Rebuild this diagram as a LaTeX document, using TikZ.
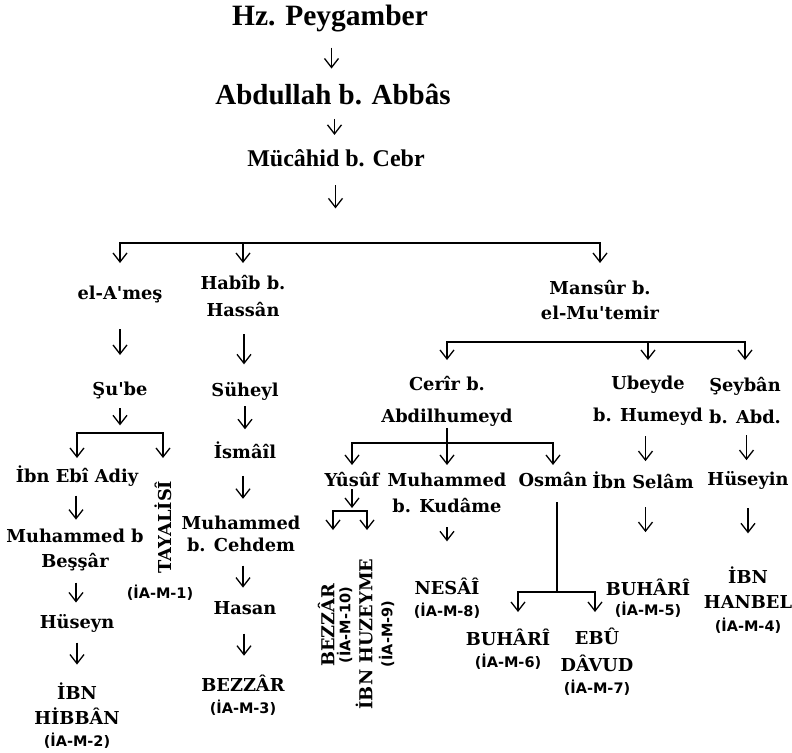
\documentclass[tikz,border=0pt]{standalone}
\usepackage{fontspec}
\setmainfont{DejaVu Serif}
\newfontfamily\tnrfont{Liberation Serif}
\newfontfamily\labfont{DejaVu Sans}
\usetikzlibrary{arrows.meta,calc}

\newcommand\ap{\XeTeXglyph\XeTeXcharglyph"0027\relax}
\newcommand\ia[1]{{\labfont\bfseries\fontsize{14.5}{16}\selectfont(İA-M-#1)}}

\tikzset{
  nm/.style={font=\bfseries\fontsize{17.8}{25}\selectfont, align=center, inner sep=2pt},
  tp/.style={font=\tnrfont\bfseries\fontsize{#1}{#1}\selectfont, inner sep=2pt},
  rot/.style={nm, rotate=90},
  arrlift/.store in=\arrlift, arrlift=0,
  arr/.style={line width=1.3pt, -{Straight Barb[length=9pt,width=14pt]}},
  dn/.style={arr, to path={($(\tikztostart)!.5!(\tikztotarget)+(0,\arrlift-#1/2)$)
      -- ($(\tikztostart)!.5!(\tikztotarget)+(0,\arrlift+#1/2)$)}},
  dn/.default=24,
  fork/.style={line width=1.6pt, line cap=rect},
  drop/.style={line width=1.3pt, -{Straight Barb[length=9pt,width=14pt]},
    to path={(\tikztostart) -- ($(\tikztostart)!#1!(\tikztostart |- \tikztotarget)$)}},
  drop/.default=20pt
}

\begin{document}
\begin{tikzpicture}[x=1pt, y=-1pt]
  \useasboundingbox (0,0) rectangle (792,752);

  % top chain
  \node[tp=29.5] (hz)  at (330,19) {Hz. Peygamber};
  \node[tp=29]   (abd) at (333,94) {Abdullah b. Abbâs};
  \node[tp=24]   (muc) at (336,158) {Mücâhid b. Cebr};

  % second level
  \node[nm] (elames) at (120,294) {el-A\ap meş};
  \node[nm] (habib)  at (243,296) {Habîb b.\\[2pt] Hassân};
  \node[nm] (mansur) at (600,300) {Mansûr b.\\ el-Mu\ap temir};

  % el-A'mes branch
  \node[nm] (sube)   at (120,390) {Şu\ap be};
  \node[nm] (ibnebi) at (77,476) {İbn Ebî Adiy};
  \node[rot] (tayali) at (163,527) {TAYALİSÎ};
  \node[nm] (tayaliL) at (160,593) {\ia{1}};
  \node[nm] (muh1)   at (75,550) {Muhammed b\\ Beşşâr};
  \node[nm] (huseyn) at (77,623) {Hüseyn};
  \node[nm] (hibban) at (77,716) {İBN\\ HİBBÂN\\[-3pt] \ia{2}};

  % Habib branch
  \node[nm] (suheyl) at (245,391) {Süheyl};
  \node[nm] (ismail) at (245,450) {İsmâîl};
  \node[nm] (muh2)   at (241,534) {Muhammed\\[-3pt] b. Cehdem};
  \node[nm] (hasan)  at (245,608) {Hasan};
  \node[nm] (bezzar3) at (243,695) {BEZZÂR\\[-3pt] \ia{3}};

  % Mansur branch
  \node[nm] (cerir)  at (447,401) {Cerîr b.\\[7pt] Abdilhumeyd};
  \node[nm] (ubeyde) at (648,401) {Ubeyde\\[7pt] b. Humeyd};
  \node[nm] (seyban) at (745,401) {Şeybân\\[7pt] b. Abd.};

  \node[nm] (yusuf)  at (352,480) {Yûsûf};
  \node[nm] (kudame) at (447,493) {Muhammed\\[1pt] b. Kudâme};
  \node[nm] (osman)  at (553,480) {Osmân};
  \node[nm] (ibnselam) at (643,480) {İbn Selâm};
  \node[nm] (huseyin) at (748,480) {Hüseyin};

  \node[rot] (bezzar10) at (335,625) {BEZZÂR\\[-9pt] \ia{10}};
  \node[rot] (huzeyme)  at (375,634) {İBN HUZEYME\\[-5pt] \ia{9}};
  \node[nm] (nesai)   at (447,598) {NESÂÎ\\[-3pt] \ia{8}};
  \node[nm] (buhari6) at (508,649) {BUHÂRÎ\\[-3pt] \ia{6}};
  \node[nm] (davud)   at (597,662) {EBÛ\\[2pt] DÂVUD\\[-3pt] \ia{7}};
  \node[nm] (buhari5) at (648,598) {BUHÂRÎ\\[-5pt] \ia{5}};
  \node[nm] (hanbel)  at (748,600) {İBN\\ HANBEL\\[-2pt] \ia{4}};

  % fork points
  \coordinate (f1) at (335,243);
  \coordinate (f2) at (120,433);
  \coordinate (f3) at (447,443);
  \coordinate (f4) at (597,342);
  \coordinate (f5) at (557,592);
  \coordinate (f5l) at (518,592);
  \coordinate (f5r) at (595,592);
  \coordinate (f6) at (352,511);
  \coordinate (f6l) at (333,511);
  \coordinate (f6r) at (367,511);

  % simple arrows
  \draw[dn=21] (hz.south) to (abd.north);
  \draw[dn=16] (abd.south) to (muc.north);
  \draw[dn=23, arrlift=-9] (muc.south) to (f1);
  \draw[dn=26] (elames.south) to (sube.north);
  \draw[dn=30] (habib.south) to (suheyl.north);
  \draw[dn=17] (sube.south) to (f2);
  \draw[dn=23, arrlift=-3] (suheyl.south) to (ismail.north);
  \draw[dn=23] (ismail.south) to (muh2.north);
  \draw[dn=22] (muh2.south) to (hasan.north);
  \draw[dn=22] (hasan.south) to (bezzar3.north);
  \draw[dn=24] (ibnebi.south) to (muh1.north);
  \draw[dn=20] (muh1.south) to (huseyn.north);
  \draw[dn=22, arrlift=-4] (huseyn.south) to (hibban.north);
  \draw[dn=14, arrlift=-11] (kudame.south) to (nesai.north);
  \draw[dn=25] (ubeyde.south) to (ibnselam.north);
  \draw[dn=25] (seyban.south) to (huseyin.north);
  \draw[dn=25, arrlift=-14] (ibnselam.south) to (buhari5.north);
  \draw[dn=25, arrlift=-7] (huseyin.south) to (hanbel.north);
  \draw[arr, shorten >=3pt] (yusuf.south) -- (f6);

  % forks
  \draw[fork] (f1 -| elames) -- (f1 -| mansur);
  \foreach \c in {elames,habib,mansur}
    \draw[drop] (f1 -| \c) to (\c);
  \draw[fork] (f2 -| ibnebi) -- (f2 -| tayali);
  \foreach \c in {ibnebi,tayali}
    \draw[drop=25pt] (f2 -| \c) to (\c);
  \draw[fork] (f4 -| cerir) -- (f4 -| seyban);
  \foreach \c in {cerir,ubeyde,seyban}
    \draw[drop=18pt] (f4 -| \c) to (\c);
  \draw[fork] (cerir.south) -- (f3);
  \draw[fork] (f3 -| yusuf) -- (f3 -| osman);
  \foreach \c in {yusuf,kudame,osman}
    \draw[drop=22pt] (f3 -| \c) to (\c);
  \draw[fork, shorten <=13pt] (f5 |- osman.south) -- (f5);
  \draw[fork] (f5l) -- (f5r);
  \draw[drop] (f5l) to (buhari6);
  \draw[drop] (f5r) to (davud);
  \draw[fork] (f6l) -- (f6r);
  \draw[drop=19pt] (f6l) to (bezzar10);
  \draw[drop=19pt] (f6r) to (huzeyme);
\end{tikzpicture}
\end{document}
